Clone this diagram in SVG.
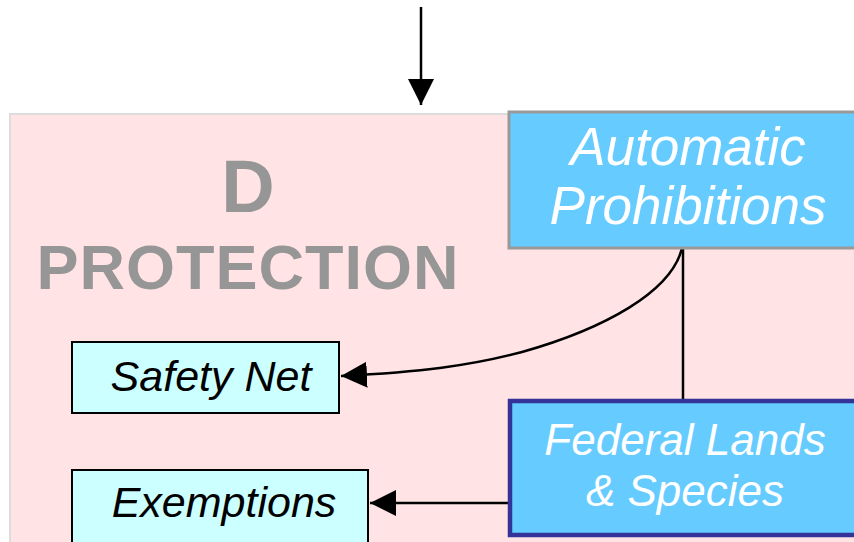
<svg xmlns="http://www.w3.org/2000/svg" width="854" height="542" viewBox="0 0 854 542">
<style>
.title{font-family:"Liberation Sans",Arial,sans-serif;font-weight:bold;fill:#969696;text-anchor:middle}
.blue{fill:#66CCFF}
.wt{font-family:"Liberation Sans",Arial,sans-serif;font-style:italic;fill:#FFFFFF;text-anchor:middle}
.bt{font-family:"Liberation Sans",Arial,sans-serif;font-style:italic;fill:#000000;text-anchor:middle;font-size:43px}
.small{fill:#CCFFFF;stroke:#000000;stroke-width:2}
.conn{fill:none;stroke:#000000;stroke-width:2.5}
</style>
<defs>
<marker id="ah" markerUnits="userSpaceOnUse" viewBox="0 0 26 26" markerWidth="26" markerHeight="26" refX="26" refY="13" orient="auto">
<path d="M0,0 L26,13 L0,26 Z" fill="#000000"/>
</marker>
</defs>
<rect width="854" height="542" fill="#FFFFFF"/>
<g id="protection">
<rect x="10" y="114" width="860" height="440" fill="#FFE3E5" stroke="#DDDDDD" stroke-width="2"/>
<text class="title" x="248" y="212" font-size="74">D</text>
<text class="title" x="248" y="289" font-size="63" letter-spacing="1">PROTECTION</text>
</g>
<g id="connectors">
<line class="conn" x1="421" y1="7" x2="421" y2="105" stroke-width="3" marker-end="url(#ah)"/>
<line class="conn" x1="683" y1="243" x2="683" y2="400"/>
<path class="conn" d="M683,243 C676,292 600,330 522,352 C470,366 420,372 341,376" marker-end="url(#ah)"/>
<line class="conn" x1="510" y1="503" x2="370" y2="503" marker-end="url(#ah)"/>
</g>
<g id="automatic">
<rect class="blue" x="509" y="112" width="360" height="136" stroke="#999999" stroke-width="3"/>
<text class="wt" x="688" y="165" font-size="53">Automatic</text>
<text class="wt" x="688" y="224" font-size="53">Prohibitions</text>
</g>
<g id="safety">
<rect class="small" x="72" y="342" width="267" height="71"/>
<text class="bt" x="211" y="391">Safety Net</text>
</g>
<g id="exemptions">
<rect class="small" x="72" y="470" width="296" height="90"/>
<text class="bt" x="224" y="517">Exemptions</text>
</g>
<g id="federal">
<rect class="blue" x="510" y="401" width="360" height="134" stroke="#333399" stroke-width="4.5"/>
<text class="wt" x="685" y="455" font-size="44">Federal Lands</text>
<text class="wt" x="685" y="506" font-size="44">&amp; Species</text>
</g>
</svg>
